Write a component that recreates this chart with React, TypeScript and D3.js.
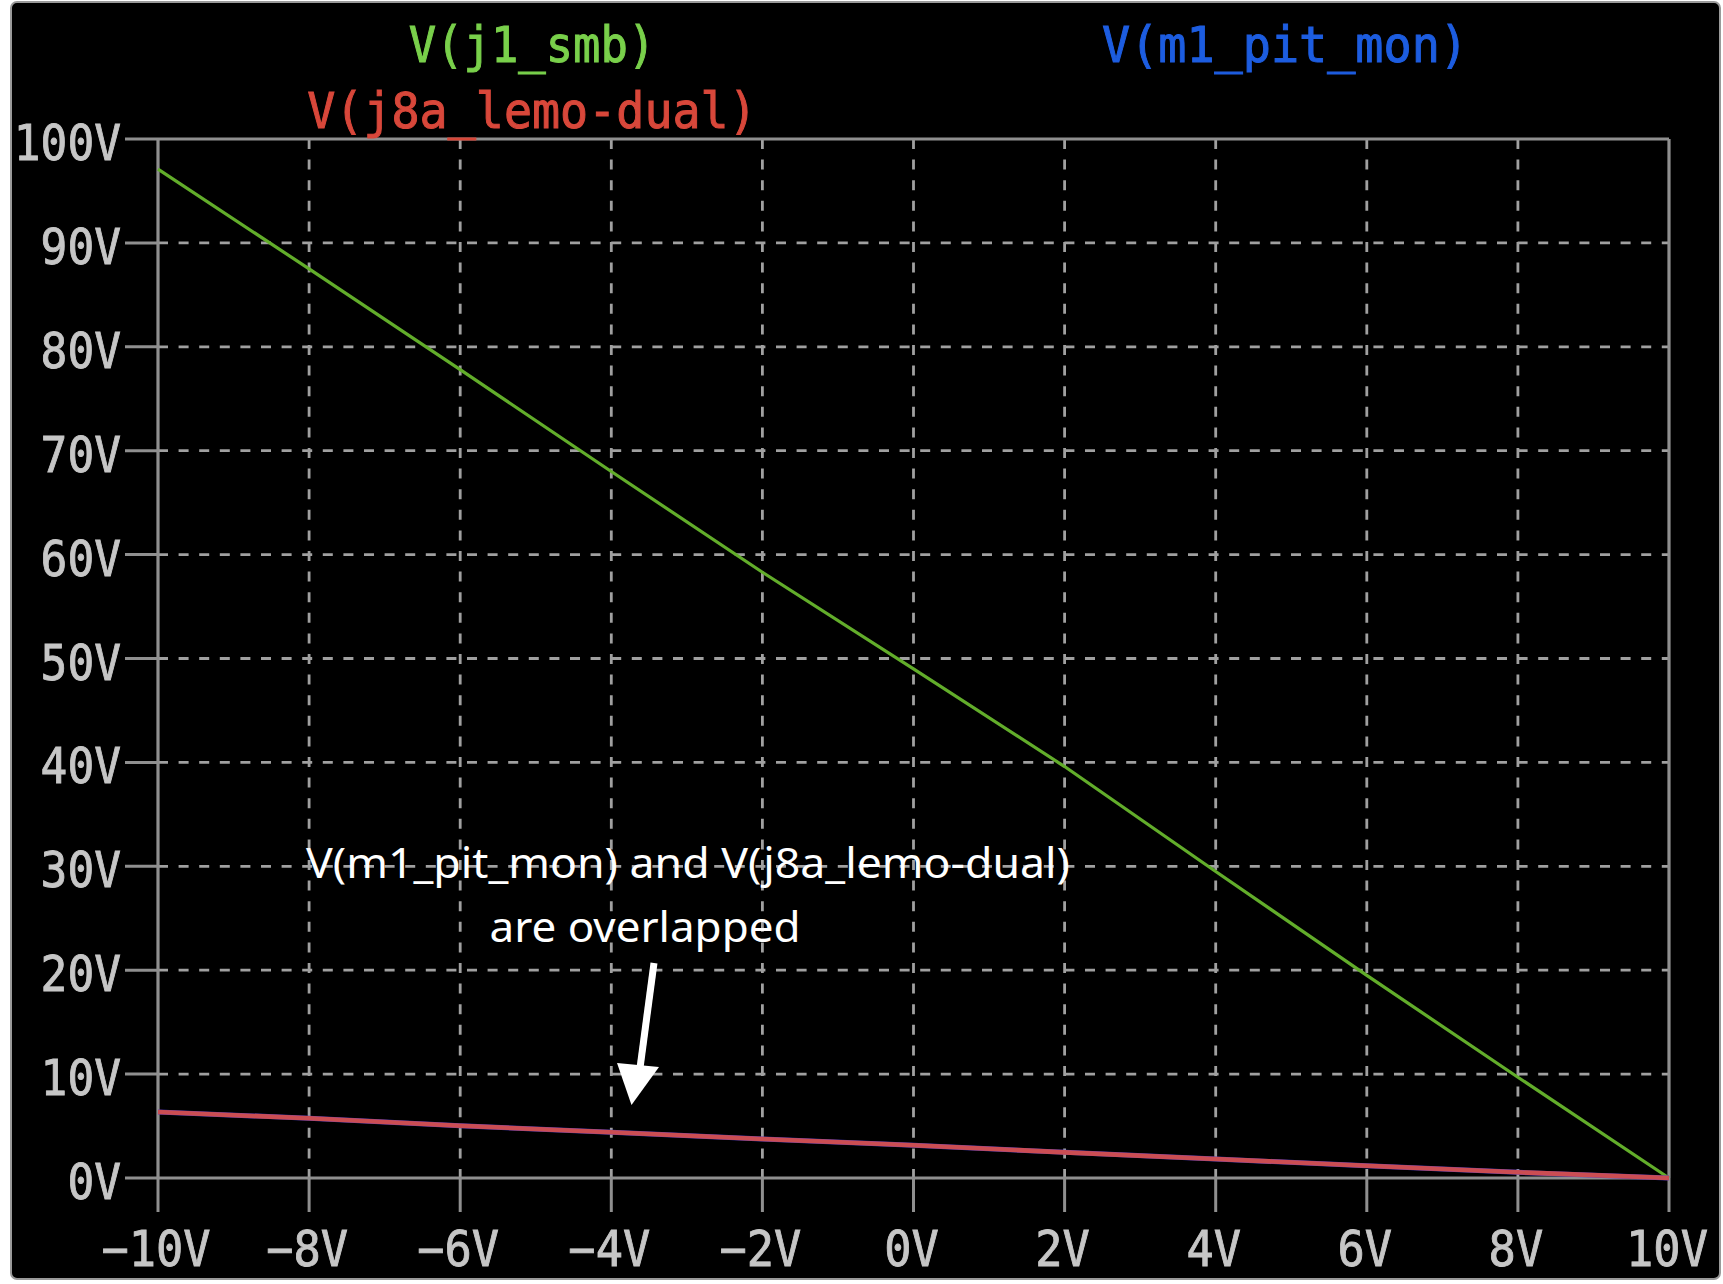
import React from 'react';
import * as d3 from 'd3';

// sweep points (V) along the x axis
const sweepVolts = [-10, -8, -6, -4, -2, 0, 2, 4, 6, 8, 10];

// values at each sweep point
const j1SmbValues = [97.1, 87.5, 77.8, 68.0, 58.3, 49.0, 39.6, 29.5, 19.5, 9.7, 0];
const m1PitMonValues = [6.35, 5.75, 5.03, 4.4, 3.75, 3.15, 2.47, 1.83, 1.18, 0.55, 0];
const j8aLemoDualValues = [6.35, 5.75, 5.03, 4.4, 3.75, 3.15, 2.47, 1.83, 1.18, 0.55, 0];

const xTickValues = [-10, -8, -6, -4, -2, 0, 2, 4, 6, 8, 10];
const xTickLabels = ['−10V', '−8V', '−6V', '−4V', '−2V', '0V', '2V', '4V', '6V', '8V', '10V'];
const yTickValues = [0, 10, 20, 30, 40, 50, 60, 70, 80, 90, 100];
const yTickLabels = ['0V', '10V', '20V', '30V', '40V', '50V', '60V', '70V', '80V', '90V', '100V'];

const W = 1723;
const H = 1284;
const mono = '"DejaVu Sans Mono", "Liberation Mono", monospace';

const App: React.FC = () => {
  const x = d3.scaleLinear().domain([-10, 10]).range([158, 1669]);
  const y = d3.scaleLinear().domain([0, 100]).range([1178, 139]);

  const line = d3.line<number>()
    .x((d, i) => x(sweepVolts[i]))
    .y(d => y(d));

  const frame = '#8f8f8f';
  const grid = '#a0a0a0';
  const label = '#c6c6c6';
  const tickOut = 33;
  const xTickDown = 34;

  return (
    <svg width={W} height={H} style={{ position: 'absolute', left: 0, top: 0, background: '#fff' }}>
      <defs>
        <filter id="soft" x="-5%" y="-5%" width="110%" height="110%">
          <feGaussianBlur stdDeviation={0.7} />
        </filter>
      </defs>
      <rect x={11} y={2} width={1709} height={1277} rx={6} fill="#000" stroke="#9a9a9a" strokeWidth={2} />

      <g filter="url(#soft)">
        {/* grid */}
        {yTickValues.slice(1, -1).map(v => (
          <line key={'gy' + v} x1={x(-10)} x2={x(10)} y1={y(v)} y2={y(v)}
            stroke={grid} strokeWidth={2.8} strokeDasharray="10 10.6" />
        ))}
        {xTickValues.slice(1, -1).map(v => (
          <line key={'gx' + v} x1={x(v)} x2={x(v)} y1={y(100)} y2={y(0)}
            stroke={grid} strokeWidth={2.8} strokeDasharray="10 10.6" />
        ))}

        {/* frame and ticks */}
        {yTickValues.map(v => (
          <line key={'ty' + v} x1={x(-10) - tickOut} x2={x(-10)} y1={y(v)} y2={y(v)}
            stroke={frame} strokeWidth={3} />
        ))}
        {xTickValues.map(v => (
          <line key={'tx' + v} x1={x(v)} x2={x(v)} y1={y(0)} y2={y(0) + xTickDown}
            stroke={frame} strokeWidth={3} />
        ))}
        <line x1={x(-10)} x2={x(10)} y1={y(100)} y2={y(100)} stroke={frame} strokeWidth={3.2} />
        <line x1={x(-10)} x2={x(10)} y1={y(0)} y2={y(0)} stroke={frame} strokeWidth={3.2} />
        <line x1={x(-10)} x2={x(-10)} y1={y(100)} y2={y(0)} stroke={frame} strokeWidth={3.2} />
        <line x1={x(10)} x2={x(10)} y1={y(100)} y2={y(0)} stroke={frame} strokeWidth={3.2} />

        {/* tick labels */}
        {yTickValues.map((v, i) => (
          <text key={'ly' + v} x={121} y={y(v) + 21} textAnchor="end" fill={label}
            stroke={label} strokeWidth={0.9}
            fontFamily={mono} fontSize={49} textLength={yTickLabels[i].length * 26.8}
            lengthAdjust="spacingAndGlyphs">{yTickLabels[i]}</text>
        ))}
        {xTickValues.map((v, i) => (
          <text key={'lx' + v} x={x(v) - 2} y={1266} textAnchor="middle" fill={label}
            stroke={label} strokeWidth={0.9}
            fontFamily={mono} fontSize={49} textLength={xTickLabels[i].length * 27.3}
            lengthAdjust="spacingAndGlyphs">{xTickLabels[i]}</text>
        ))}

        {/* traces */}
        <path d={line(j1SmbValues) || ''} fill="none" stroke="#62ad2c" strokeWidth={3.2} />
        <path d={line(m1PitMonValues) || ''} fill="none" stroke="#4a3fd0" strokeWidth={5} />
        <path d={line(j8aLemoDualValues) || ''} fill="none" stroke="#f0522f" strokeWidth={4.6} strokeOpacity={0.78} />

        {/* trace names */}
        <text x={532} y={62} textAnchor="middle" fill="#79d04b" stroke="#79d04b" strokeWidth={1}
          fontFamily={mono} fontSize={49}
          textLength={9 * 27.4} lengthAdjust="spacingAndGlyphs">V(j1_smb)</text>
        <text x={532} y={128} textAnchor="middle" fill="#d8473a" stroke="#d8473a" strokeWidth={1}
          fontFamily={mono} fontSize={49}
          textLength={16 * 28.1} lengthAdjust="spacingAndGlyphs">V(j8a_lemo-dual)</text>
        <text x={1285} y={62} textAnchor="middle" fill="#1e5de0" stroke="#1e5de0" strokeWidth={1}
          fontFamily={mono} fontSize={49}
          textLength={13 * 28.15} lengthAdjust="spacingAndGlyphs">V(m1_pit_mon)</text>
      </g>

      {/* annotation */}
      <text x={688} y={878} textAnchor="middle" fill="#fff" fontFamily='"Noto Sans", sans-serif'
        fontSize={41} textLength={764} lengthAdjust="spacingAndGlyphs">V(m1_pit_mon) and V(j8a_lemo-dual)</text>
      <text x={645} y={942} textAnchor="middle" fill="#fff" fontFamily='"Noto Sans", sans-serif'
        fontSize={41} textLength={311} lengthAdjust="spacingAndGlyphs">are overlapped</text>
      <line x1={654} y1={963} x2={640} y2={1068} stroke="#fff" strokeWidth={7} />
      <polygon points="617,1063 659,1067 631.5,1105" fill="#fff" />
    </svg>
  );
};

export default App;
